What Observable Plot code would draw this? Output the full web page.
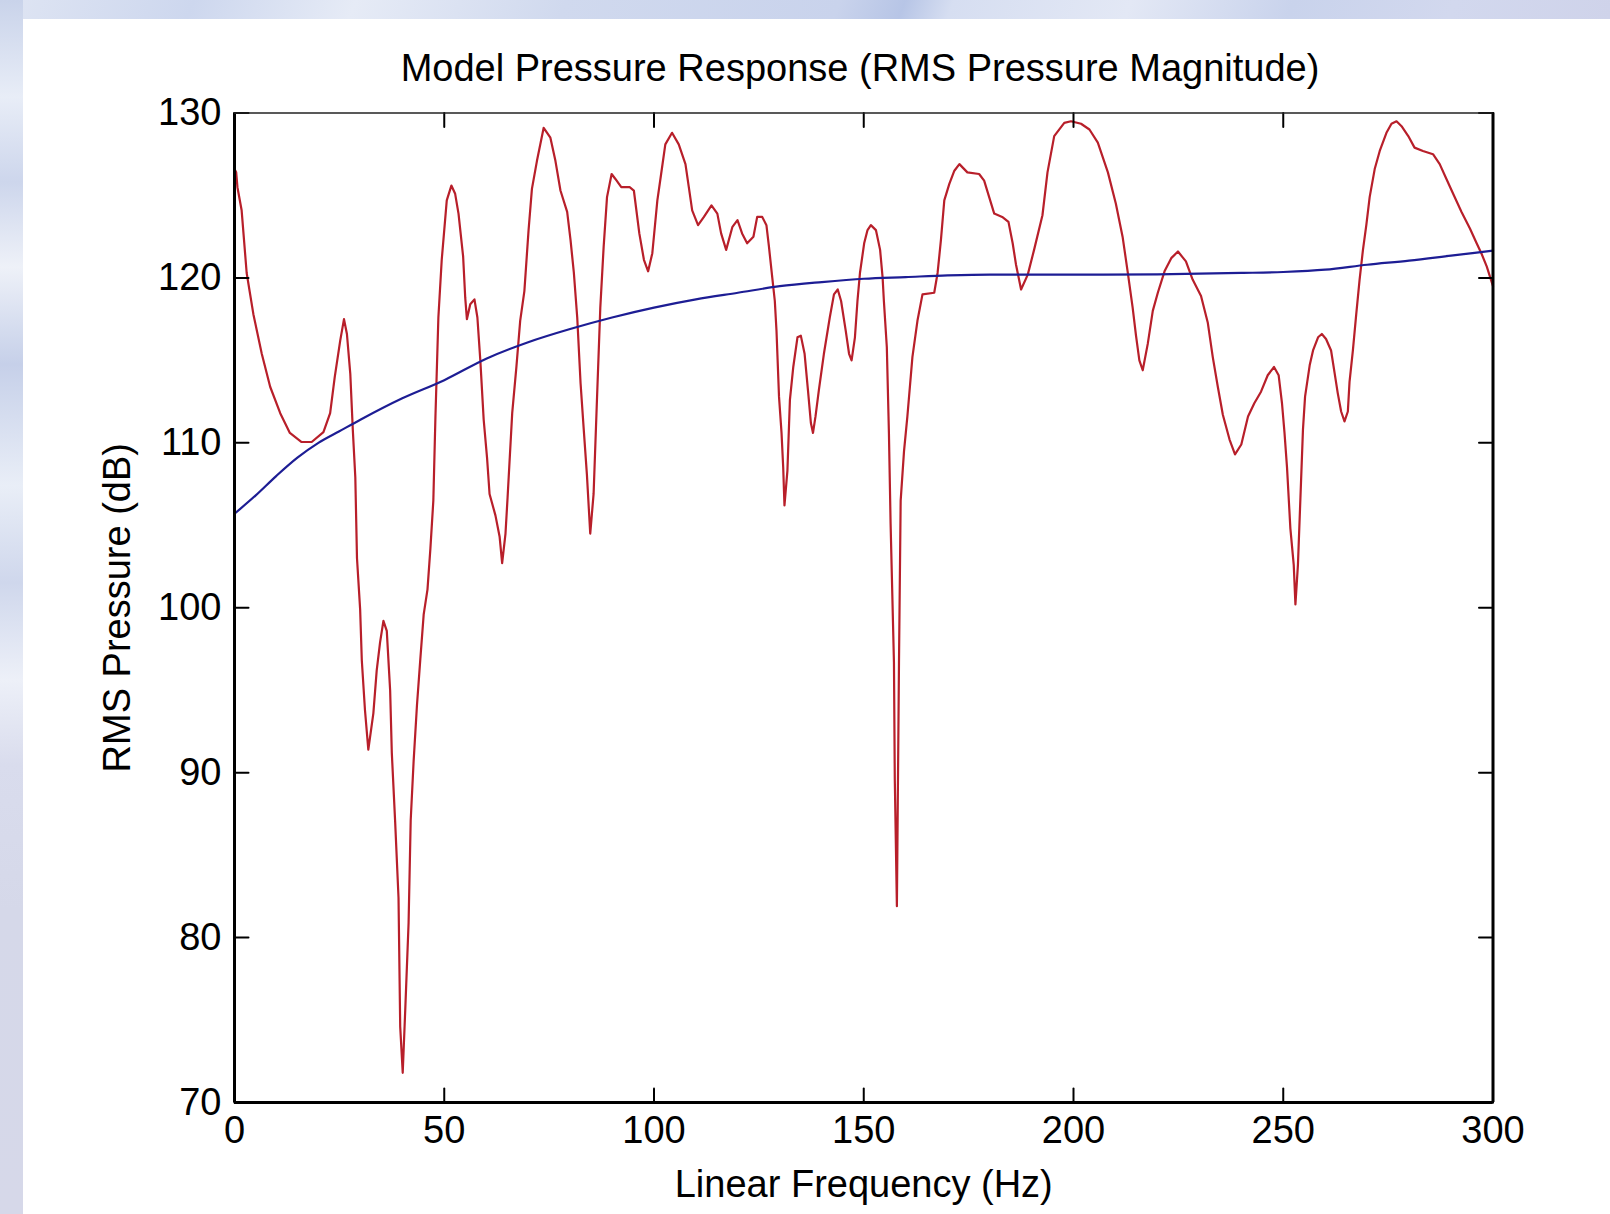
<!DOCTYPE html>
<html>
<head>
<meta charset="utf-8">
<script src="https://cdn.jsdelivr.net/npm/d3@7"></script>
<script src="https://cdn.jsdelivr.net/npm/@observablehq/plot@0.6"></script>
<style>
  html, body { margin: 0; padding: 0; }
  body {
    width: 1610px; height: 1214px; overflow: hidden; position: relative;
    font-family: "Liberation Sans", Arial, Helvetica, sans-serif;
    background: #d6d9ea;
  }
  #topstrip {
    position: absolute; left: 0; top: 0; width: 1610px; height: 19px;
    background: linear-gradient(110deg, #dfe5f3 0%, #cdd7ee 12%, #e6ebf6 22%, #d0d9ee 35%, #c9d3ec 52%, #b7c5e6 56%, #d6def1 59%, #e3e8f5 70%, #c9d3ec 80%, #d2d8ee 90%, #cfd3ea 100%);
  }
  #leftstrip {
    position: absolute; left: 0; top: 0; width: 23px; height: 1214px;
    background: linear-gradient(180deg, #c9d3ea 0%, #e8edf7 8%, #cdd6ec 15%, #eef1f8 22%, #c6d0e9 30%, #e9eef7 40%, #cfd7ec 48%, #edf0f8 56%, #d9dced 63%, #d5d8e9 75%, #d6d8e9 100%);
  }
  #panel { position: absolute; left: 23px; top: 19px; right: 0; bottom: 0; background: #fff; }
  #title {
    position: absolute; left: 860px; top: 49px; transform: translateX(-50%);
    white-space: nowrap; font-size: 38px; line-height: 38px; color: #000;
  }
  #chart { position: absolute; left: 0; top: 100px; }
</style>
</head>
<body>
<div id="topstrip"></div>
<div id="leftstrip"></div>
<div id="panel"></div>
<div id="title">Model Pressure Response (RMS Pressure Magnitude)</div>
<div id="chart"></div>
<script>
// Axis domains and tick labels
const xDomain = [0, 300];
const yDomain = [70, 130];
const xTicks = [0, 50, 100, 150, 200, 250, 300];
const yTicks = [70, 80, 90, 100, 110, 120, 130];

// Model response (red): frequency (Hz) and RMS pressure (dB)
const redFreq = [0, 0.4, 0.7, 1.7, 2.9, 4.5, 6.5, 8.5, 10.9, 13.2, 16.0, 18.4, 21.2, 22.8, 23.9, 25.2, 26.1, 26.8, 27.6, 28.2,
  28.8, 29.2, 29.95, 30.35, 31.1, 31.9, 33.1, 33.9, 34.7, 35.5, 36.3, 37.1, 37.5, 38.3, 39.1, 39.5, 40.1, 40.7, 41.5, 42.0,
  42.7, 43.5, 44.3, 45.1, 46.0, 46.7, 47.4, 47.9, 48.6, 49.4, 50.6, 51.7, 52.6, 53.4, 54.5, 55.0, 55.4, 56.2, 57.2, 57.9,
  58.6, 59.4, 60.2, 60.8, 62.2, 63.2, 63.8, 64.6, 65.1, 66.2, 67.2, 68.1, 69.1, 70.1, 70.9, 72.1, 73.7, 75.3, 76.5, 77.7,
  79.3, 80.1, 80.9, 81.7, 82.5, 83.2, 84.0, 84.8, 85.6, 86.4, 87.2, 88.0, 88.8, 89.9, 90.8, 92.2, 94.2, 95.2, 96.5, 97.6,
  98.6, 99.6, 100.8, 101.7, 102.7, 104.3, 105.9, 107.5, 108.3, 109.1, 110.5, 111.9, 113.7, 115.1, 116.0, 117.2, 118.7, 119.9, 121.0, 122.2,
  123.7, 124.6, 125.8, 126.8, 127.4, 128.2, 128.8, 129.2, 129.8, 130.4, 130.8, 131.1, 131.8, 132.4, 133.2, 134.2, 135.0, 135.9, 136.7, 137.4,
  137.9, 138.5, 139.3, 140.5, 141.9, 142.9, 143.8, 144.6, 145.7, 146.5, 147.1, 147.9, 148.5, 149.1, 150.1, 150.9, 151.7, 152.9, 153.9, 154.5,
  154.8, 155.5, 156.0, 156.4, 157.2, 157.4, 157.9, 158.4, 158.8, 159.6, 160.4, 161.6, 162.8, 164.0, 166.8, 167.6, 168.4, 169.2, 170.4, 171.6,
  172.8, 174.7, 177.5, 178.7, 179.9, 181.1, 183.0, 184.5, 185.5, 186.3, 187.5, 189.1, 190.6, 192.6, 193.8, 195.4, 197.8, 199.4, 201.8, 203.8,
  205.8, 208.2, 210.1, 211.7, 212.9, 214.1, 214.9, 215.7, 216.5, 217.7, 218.9, 220.1, 221.7, 223.3, 224.9, 226.8, 228.4, 230.4, 232.0, 233.2,
  234.4, 235.6, 237.2, 238.5, 240.0, 241.6, 243.1, 244.7, 246.3, 247.8, 248.9, 249.7, 250.3, 250.9, 251.7, 252.5, 252.9, 253.5, 254.1, 254.7,
  255.2, 256.3, 257.1, 258.3, 259.2, 260.2, 261.4, 262.2, 263.0, 263.8, 264.6, 265.4, 265.8, 266.6, 267.4, 268.2, 269.0, 269.8, 270.6, 271.8,
  273.0, 274.6, 275.8, 277.0, 278.2, 279.8, 281.3, 283.3, 285.7, 287.3, 288.9, 290.5, 292.5, 294.5, 296.1, 297.3, 298.5, 300];
const redDb = [126.6, 126.4, 125.5, 124.1, 120.3, 117.8, 115.4, 113.4, 111.8, 110.6, 110.05, 110.05, 110.65, 111.8, 114.0, 116.2, 117.5, 116.6, 114.2, 110.8,
  107.9, 103.0, 99.9, 96.8, 93.8, 91.4, 93.6, 96.2, 97.9, 99.2, 98.6, 95.0, 91.2, 87.0, 82.4, 74.6, 71.8, 75.6, 80.9, 87.1,
  90.7, 94.1, 96.9, 99.6, 101.1, 103.6, 106.5, 111.6, 117.6, 121.1, 124.7, 125.6, 125.1, 123.9, 121.3, 118.8, 117.5, 118.4, 118.7, 117.6,
  115.0, 111.4, 109.1, 106.9, 105.6, 104.3, 102.7, 104.5, 106.7, 111.8, 114.6, 117.4, 119.2, 122.9, 125.4, 127.1, 129.1, 128.5, 127.1, 125.3,
  124.0, 122.3, 120.3, 117.6, 113.6, 111.0, 108.1, 104.5, 106.9, 112.6, 118.2, 121.9, 124.9, 126.3, 126.0, 125.5, 125.5, 125.3, 122.7, 121.1,
  120.4, 121.5, 124.7, 126.3, 128.1, 128.8, 128.1, 126.9, 125.5, 124.1, 123.2, 123.7, 124.4, 123.9, 122.7, 121.7, 123.1, 123.5, 122.7, 122.1,
  122.5, 123.7, 123.7, 123.2, 121.9, 120.0, 118.6, 116.8, 112.8, 110.6, 108.5, 106.2, 108.3, 112.6, 114.6, 116.4, 116.5, 115.4, 113.2, 111.2,
  110.6, 111.6, 113.2, 115.4, 117.6, 119.0, 119.3, 118.6, 116.8, 115.4, 115.0, 116.4, 118.6, 120.3, 122.1, 122.9, 123.2, 122.9, 121.7, 120.0,
  118.6, 115.8, 110.6, 105.1, 96.7, 89.6, 81.9, 96.7, 106.5, 109.5, 111.6, 115.2, 117.4, 119.0, 119.1, 120.3, 122.3, 124.7, 125.7, 126.5,
  126.9, 126.4, 126.3, 125.9, 124.9, 123.9, 123.7, 123.4, 122.1, 120.8, 119.3, 120.2, 121.7, 123.8, 126.4, 128.6, 129.4, 129.5, 129.35, 129.0,
  128.2, 126.4, 124.5, 122.5, 120.4, 118.2, 116.5, 115.0, 114.4, 116.0, 118.0, 119.1, 120.4, 121.2, 121.6, 121.0, 119.9, 118.9, 117.3, 115.2,
  113.4, 111.7, 110.2, 109.3, 109.9, 111.6, 112.4, 113.1, 114.1, 114.6, 114.1, 112.4, 110.6, 108.5, 104.8, 102.6, 100.2, 102.6, 106.7, 110.8,
  112.8, 114.7, 115.6, 116.4, 116.6, 116.3, 115.6, 114.3, 113.0, 111.9, 111.3, 111.9, 113.7, 115.6, 117.8, 119.9, 121.7, 123.2, 124.9, 126.6,
  127.7, 128.8, 129.35, 129.5, 129.2, 128.6, 127.9, 127.7, 127.5, 126.9, 126.0, 125.1, 124.0, 123.0, 122.1, 121.45, 120.7, 119.5];

// Smooth reference response (blue)
const blueFreq = [0, 5, 10, 15, 20, 25, 30, 40, 50, 60, 70, 80, 90, 100, 110, 120, 130, 140, 150, 160,
  170, 180, 200, 220, 240, 250, 260, 270, 280, 290, 300];
const blueDb = [105.7, 106.8, 108.0, 109.1, 110.0, 110.7, 111.4, 112.7, 113.8, 115.1, 116.1, 116.9, 117.6, 118.2, 118.7, 119.1, 119.5, 119.75, 119.95, 120.05,
  120.15, 120.2, 120.2, 120.22, 120.3, 120.36, 120.5, 120.8, 121.05, 121.35, 121.65];

const red = redFreq.map((f, i) => ({f, db: redDb[i]}));
const blue = blueFreq.map((f, i) => ({f, db: blueDb[i]}));

const tickLine = {draw(ctx, l) { ctx.moveTo(0, 0); ctx.lineTo(0, -l); }};
const tickOpts = {length: 14, anchor: "start", shape: tickLine, stroke: "black", strokeWidth: 2};

const chart = Plot.plot({
  width: 1610,
  height: 1114,
  marginLeft: 234,
  marginRight: 117.5,
  marginTop: 12.5,
  marginBottom: 112,
  x: {domain: xDomain},
  y: {domain: yDomain},
  style: {background: "transparent", fontFamily: "'Liberation Sans', Arial, sans-serif", fontSize: "38px", color: "black", overflow: "visible"},
  marks: [
    Plot.axisX(xTicks, {tickSize: 0, tickPadding: 14, label: "Linear Frequency (Hz)", labelAnchor: "center", labelArrow: "none", labelOffset: 94}),
    Plot.axisY(yTicks, {tickSize: 0, tickPadding: 13, label: "RMS Pressure (dB)", labelAnchor: "center", labelArrow: "none", labelOffset: 131}),
    Plot.line(red, {x: "f", y: "db", stroke: "#b81f2a", strokeWidth: 2.2}),
    Plot.line(blue, {x: "f", y: "db", stroke: "#1d1d94", strokeWidth: 2.2, curve: "monotone-x"}),
    Plot.vector(yTicks, {y: d => d, frameAnchor: "left", rotate: 90, ...tickOpts}),
    Plot.vector(yTicks, {y: d => d, frameAnchor: "right", rotate: -90, ...tickOpts}),
    Plot.vector(xTicks, {x: d => d, frameAnchor: "bottom", rotate: 0, ...tickOpts}),
    Plot.vector(xTicks, {x: d => d, frameAnchor: "top", rotate: 180, ...tickOpts}),
    Plot.ruleX(xDomain, {stroke: "black", strokeWidth: 3}),
    Plot.ruleY([yDomain[0]], {stroke: "black", strokeWidth: 3}),
    Plot.ruleY([yDomain[1]], {stroke: "#222", strokeWidth: 1.6})
  ]
});
document.getElementById("chart").appendChild(chart);
</script>
</body>
</html>
